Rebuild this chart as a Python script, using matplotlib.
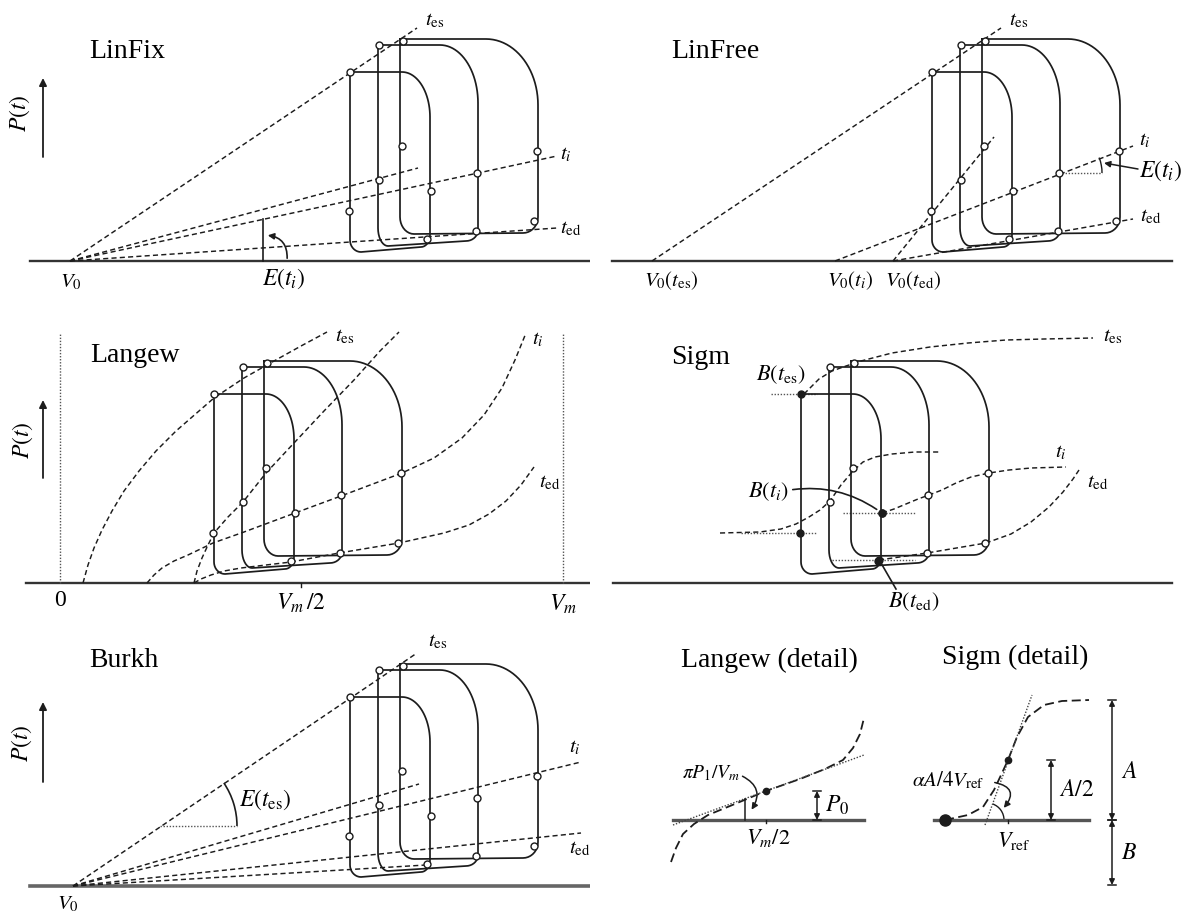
import numpy as np
import matplotlib
matplotlib.use('Agg')
import matplotlib.pyplot as plt
from matplotlib.patches import Arc, FancyArrowPatch

plt.rcParams['font.family'] = ['Liberation Serif', 'DejaVu Serif']
plt.rcParams['mathtext.fontset'] = 'stix'

# ---- shared loop geometry (volume px, pressure px above baseline) ----
loop_vl = [350, 378, 400]
loop_vr = [430, 478, 538]
loop_ptop = [189, 216, 222]
loop_pbl = [9, 15, 27]
loop_pbr = [14, 20, 28]
loop_rtr = [(28, 45), (38, 58), (52, 66)]
loop_rbr = [(9, 12), (12, 11), (15, 16)]
loop_rbl = [(11, 12), (10, 18), (14, 17)]

# marked states on the loops
es_v, es_p = [350, 379, 403], [189, 216, 220]
left_v, left_p = [349, 379, 402], [50, 81, 115]
right_v, right_p = [431, 477, 537], [70, 88, 110]
ed_v, ed_p = [427, 476, 534], [22, 30, 40]

# LinFix: lines through fixed V0
fix_v0 = 70
fix_end_v = [417, 418, 557, 557]
fix_end_p = [233, 93, 105, 33]

# LinFree: lines with own intercepts
free_v0 = [70, 253, 311, 311]
free_end_v = [419, 551, 551, 412]
free_end_p = [233, 115, 42, 124]

# Burkh
burkh_v0 = 73
burkh_end_v = [417, 419, 581, 581, 426]
burkh_end_p = [233, 102, 124, 53, 21]

# Langew curves
lang_es_v = [219, 224, 230, 238, 248, 260, 275, 292, 312, 335, 350, 380, 410, 437, 463]
lang_es_p = [0, 18, 35, 53, 72, 92, 112, 132, 152, 172, 185, 205, 222, 237, 251]
lang_x_v = [330, 333, 338, 344, 350, 364, 379, 402, 430, 460, 490, 516, 535]
lang_x_p = [0, 12, 25, 38, 50, 66, 81, 110, 140, 172, 203, 232, 251]
lang_i_v = [283, 290, 298, 310, 324, 349, 380, 431, 477, 538, 570, 598, 620, 638, 651, 662]
lang_i_p = [0, 8, 15, 22, 28, 40, 51, 70, 87, 110, 125, 145, 168, 195, 223, 250]
lang_ed_v = [330, 337, 347, 360, 377, 427, 475, 535, 580, 605, 625, 642, 657, 670]
lang_ed_p = [0, 4, 8, 12, 15, 21, 30, 40, 50, 58, 69, 82, 98, 116]
lang_vzero, lang_vhalf, lang_vm = 196, 437, 699

# Sigm curves
sig_es_v = [353, 360, 368, 381, 395, 410, 441, 479, 517, 555, 593, 642]
sig_es_p = [189, 196, 204, 212, 217, 222, 230, 236, 240, 243, 244, 245]
sig_x_v = [269, 309, 330, 345, 358, 369, 379, 390, 402, 412, 424, 441, 464, 490]
sig_x_p = [50, 51, 54, 59, 66, 73, 82, 98, 112, 121, 126, 129, 131, 131]
sig_i_v = [431, 443, 455, 467, 478, 491, 505, 520, 538, 558, 580, 615]
sig_i_p = [70, 74, 79, 84, 88, 93, 100, 106, 110, 113, 115, 116]
sig_ed_v = [428, 476, 535, 560, 580, 598, 612, 622, 628]
sig_ed_p = [23, 30, 40, 49, 61, 76, 91, 104, 113]
sig_b_v = [[320, 366], [290, 366], [392, 464], [381, 464]]
sig_b_p = [189, 50, 70, 23]

# detail panels
ld_v = [81, 86, 93, 104, 118, 140, 176, 210, 235, 253, 263, 270, 274]
ld_p = [-42, -28, -14, -4, 5, 14, 29, 41, 51, 60, 72, 86, 102]
ld_tan_v, ld_tan_p = [83, 274], [-5, 65]
ld_dot = (176, 29)
sd_v = [355, 378, 393, 404, 412, 418, 427, 438, 454, 472, 499]
sd_p = [0, 5, 13, 30, 47, 60, 83, 103, 115, 119, 120]
sd_tan_v, sd_tan_p = [395, 442], [-5, 125]
sd_dot = (418, 60)

W, H = 1182, 913
fig = plt.figure(figsize=(W / 100, H / 100), dpi=100)
INK = '#1c1c1c'
DASH = (0, (3.5, 2.2))
DOT = (0, (1, 1.2))
LAB = 15
TITLE = 20


def panel(box, ox, oy):
    x0, y0, w, h = box
    ax = fig.add_axes([x0 / W, 1 - (y0 + h) / H, w / W, h / H])
    ax.set_xlim(x0 - ox, x0 + w - ox)
    ax.set_ylim(oy - (y0 + h), oy - y0)
    ax.axis('off')
    return ax


def loop_xy(vl, vr, ptop, pbl, pbr, rtr, rbr, rbl):
    xs, ys = [vl], [ptop]
    a = np.linspace(np.pi / 2, 0, 24)
    xs += list(vr - rtr[0] + rtr[0] * np.cos(a))
    ys += list(ptop - rtr[1] + rtr[1] * np.sin(a))
    a = np.linspace(0, -np.pi / 2, 10)
    xs += list(vr - rbr[0] + rbr[0] * np.cos(a))
    ys += list(pbr + rbr[1] + rbr[1] * np.sin(a))
    a = np.linspace(-np.pi / 2, -np.pi, 10)
    xs += list(vl + rbl[0] + rbl[0] * np.cos(a))
    ys += list(pbl + rbl[1] + rbl[1] * np.sin(a))
    xs.append(vl)
    ys.append(ptop)
    return xs, ys


def draw_loops(ax, filled_first=False):
    for i in range(3):
        x, y = loop_xy(loop_vl[i], loop_vr[i], loop_ptop[i], loop_pbl[i],
                       loop_pbr[i], loop_rtr[i], loop_rbr[i], loop_rbl[i])
        ax.plot(x, y, color=INK, lw=1.25, zorder=3)
    for vs, ps in [(es_v, es_p), (left_v, left_p), (right_v, right_p), (ed_v, ed_p)]:
        if filled_first:
            ax.plot(vs[1:], ps[1:], 'o', ms=5, mfc='white', mec=INK, mew=1, zorder=6)
            ax.plot(vs[:1], ps[:1], 'o', ms=5, mfc=INK, mec=INK, zorder=6)
        else:
            ax.plot(vs, ps, 'o', ms=5, mfc='white', mec=INK, mew=1, zorder=6)


def p_arrow(ax, x, p0, p1, lx, ly):
    ax.annotate('', xy=(x, p1), xytext=(x, p0),
                arrowprops=dict(arrowstyle='-|>', color=INK, lw=1.3, mutation_scale=11,
                                shrinkA=0, shrinkB=0))
    ax.text(lx, ly, '$P(t)$', rotation=90, fontsize=17, ha='center', va='center')


def label(ax, x, y, s, size=LAB, **kw):
    kw.setdefault('ha', 'center')
    kw.setdefault('va', 'center')
    ax.text(x, y, s, fontsize=size, **kw)


def baseline(ax, x0, x1, color='#333333', lw=1.7):
    ax.plot([x0, x1], [0, 0], color=color, lw=lw, zorder=2)


def dashed(ax, v, p):
    ax.plot(v, p, color=INK, lw=1.05, ls=DASH, zorder=2)


# ---------------- LinFix ----------------
ax = panel((0, 0, 590, 300), 0, 261)
baseline(ax, 30, 590)
draw_loops(ax)
for v, p in zip(fix_end_v, fix_end_p):
    dashed(ax, [fix_v0, v], [0, p])
label(ax, 89, 209, 'LinFix', size=TITLE, ha='left')
p_arrow(ax, 43, 104, 183, 20, 148)
label(ax, 71, -21, '$V_0$')
label(ax, 425, 240, r'$t_{\mathrm{es}}$', ha='left')
label(ax, 560, 106, '$t_i$', ha='left')
label(ax, 560, 32, r'$t_{\mathrm{ed}}$', ha='left')
ax.plot([263, 263], [0, 42], color=INK, lw=1.2)
ax.add_patch(FancyArrowPatch((287, 0), (265, 26), connectionstyle='arc3,rad=0.5',
                             arrowstyle='-|>', mutation_scale=9, color=INK, lw=1.2))
label(ax, 284, -18, '$E(t_i)$', size=17)

# ---------------- LinFree ----------------
ax = panel((590, 0, 592, 300), 582, 261)
baseline(ax, 30, 590)
draw_loops(ax)
for v0, v, p in zip(free_v0, free_end_v, free_end_p):
    dashed(ax, [v0, v], [0, p])
label(ax, 89, 209, 'LinFree', size=TITLE, ha='left')
label(ax, 89, -20, r'$V_0(t_{\mathrm{es}})$')
label(ax, 268, -20, r'$V_0(t_i)$')
label(ax, 331, -20, r'$V_0(t_{\mathrm{ed}})$')
label(ax, 427, 240, r'$t_{\mathrm{es}}$', ha='left')
label(ax, 557, 120, '$t_i$', ha='left')
label(ax, 558, 44, r'$t_{\mathrm{ed}}$', ha='left')
ax.plot([477, 520], [88, 88], color='#555555', lw=1.0, ls=DOT)
ax.add_patch(Arc((477, 88), 86, 86, theta1=0, theta2=21, color=INK, lw=1.0))
ax.annotate('', xy=(522, 98), xytext=(556, 92),
            arrowprops=dict(arrowstyle='-|>', color=INK, lw=1.1, mutation_scale=9,
                            shrinkA=0, shrinkB=0))
label(ax, 557, 90, '$E(t_i)$', size=17, ha='left')

# ---------------- Langew ----------------
ax = panel((0, 300, 590, 310), -136, 583)
baseline(ax, 162, 726)
for xv in (lang_vzero, lang_vm):
    ax.plot([xv, xv], [0, 250], color='#555555', lw=1.0, ls=DOT)
ax.plot([lang_vhalf, lang_vhalf], [0, -4], color=INK, lw=1.0)
draw_loops(ax)
for v, p in [(lang_es_v, lang_es_p), (lang_x_v, lang_x_p),
             (lang_i_v, lang_i_p), (lang_ed_v, lang_ed_p)]:
    dashed(ax, v, p)
label(ax, 226, 228, 'Langew', size=TITLE, ha='left')
p_arrow(ax, 179, 105, 183, 159, 143)
label(ax, lang_vzero, -18, '0', size=17)
label(ax, lang_vhalf, -20, r'$V_m\,/2$', size=17)
label(ax, lang_vm, -21, '$V_m$', size=17)
label(ax, 471, 246, r'$t_{\mathrm{es}}$', ha='left')
label(ax, 668, 243, '$t_i$', ha='left')
label(ax, 675, 100, r'$t_{\mathrm{ed}}$', ha='left')

# ---------------- Sigm ----------------
ax = panel((590, 300, 592, 310), 451, 583)
baseline(ax, 162, 721)
draw_loops(ax, filled_first=True)
for v, p in [(sig_es_v, sig_es_p), (sig_x_v, sig_x_p),
             (sig_i_v, sig_i_p), (sig_ed_v, sig_ed_p)]:
    dashed(ax, v, p)
for v, p in zip(sig_b_v, sig_b_p):
    ax.plot(v, [p, p], color='#555555', lw=1.0, ls=DOT, zorder=2)
ax.plot([431], [70], 'o', ms=5, mfc=INK, mec=INK, zorder=7)
ax.plot([428], [23], 'o', ms=5, mfc=INK, mec=INK, zorder=7)
label(ax, 220, 226, 'Sigm', size=TITLE, ha='left')
label(ax, 652, 246, r'$t_{\mathrm{es}}$', ha='left')
label(ax, 604, 130, '$t_i$', ha='left')
label(ax, 636, 100, r'$t_{\mathrm{ed}}$', ha='left')
label(ax, 330, 208, r'$B(t_{\mathrm{es}})$', size=16)
label(ax, 317, 91, '$B(t_i)$', size=16)
label(ax, 463, -19, r'$B(t_{\mathrm{ed}})$', size=16)
ax.add_patch(FancyArrowPatch((339, 93), (428, 72), connectionstyle='arc3,rad=-0.2',
                             arrowstyle='-', color=INK, lw=1.2))
ax.plot([445, 430], [-6, 20], color=INK, lw=1.2)

# ---------------- Burkh ----------------
ax = panel((0, 610, 590, 303), 0, 886)
baseline(ax, 30, 590, color='#666666', lw=2.6)
draw_loops(ax)
for v, p in zip(burkh_end_v, burkh_end_p):
    dashed(ax, [burkh_v0, v], [0, p])
label(ax, 89, 226, 'Burkh', size=TITLE, ha='left')
p_arrow(ax, 43, 104, 184, 22, 143)
label(ax, 68, -18, '$V_0$')
label(ax, 428, 244, r'$t_{\mathrm{es}}$', ha='left')
label(ax, 569, 138, '$t_i$', ha='left')
label(ax, 569, 37, r'$t_{\mathrm{ed}}$', ha='left')
ax.plot([160, 237], [60, 60], color='#555555', lw=1.0, ls=DOT)
ax.add_patch(Arc((160, 60), 154, 154, theta1=0, theta2=34, color=INK, lw=1.2))
label(ax, 239, 86, r'$E(t_{\mathrm{es}})$', size=17, ha='left')

# ---------------- details ----------------
ax = panel((590, 610, 592, 303), 590, 820)
label(ax, 179, 160, 'Langew (detail)', size=TITLE)
label(ax, 425, 163, 'Sigm (detail)', size=TITLE)
baseline(ax, 83, 274, color='#555555', lw=2.4)
baseline(ax, 344, 499, color='#555555', lw=2.4)

ax.plot(ld_v, ld_p, color=INK, lw=1.3, ls=(0, (5, 2.5)))
ax.plot(ld_tan_v, ld_tan_p, color='#444444', lw=1.0, ls=DOT)
ax.plot(*ld_dot, 'o', ms=4.5, color=INK)
ax.plot([155, 155], [0, 21], color=INK, lw=1.1)
ax.add_patch(FancyArrowPatch((150, 45), (160, 8), connectionstyle='arc3,rad=-0.6',
                             arrowstyle='-|>', mutation_scale=9, color=INK, lw=1.1))
ax.plot([176, 176], [0, -3], color=INK, lw=1.0)
label(ax, 121, 47, r'$\pi P_1/V_m$', size=14)
label(ax, 178, -18, '$V_m/2$', size=16)

ax.plot(sd_v, sd_p, color=INK, lw=1.3, ls=(0, (5, 2.5)))
ax.plot(sd_tan_v, sd_tan_p, color='#444444', lw=1.0, ls=DOT)
ax.plot(*sd_dot, 'o', ms=4.5, color=INK)
ax.plot([sd_v[0]], [sd_p[0]], 'o', ms=8, color=INK)
ax.add_patch(Arc((397, 0), 34, 34, theta1=0, theta2=70, color=INK, lw=1.0))
ax.add_patch(FancyArrowPatch((402, 38), (412, 10), connectionstyle='arc3,rad=-0.9',
                             arrowstyle='-|>', mutation_scale=9, color=INK, lw=1.1))
ax.plot([418, 418], [0, -3], color=INK, lw=1.0)
label(ax, 358, 40, r'$\alpha A/4V_{\mathrm{ref}}$', size=15)
label(ax, 424, -21, r'$V_{\mathrm{ref}}$', size=16)


def dim(ax, x, p0, p1):
    ax.annotate('', xy=(x, p1), xytext=(x, p0),
                arrowprops=dict(arrowstyle='<|-|>', color=INK, lw=1.1, mutation_scale=8,
                                shrinkA=0, shrinkB=0))
    ax.plot([x - 4, x + 4], [p0, p0], color=INK, lw=1.1)
    ax.plot([x - 4, x + 4], [p1, p1], color=INK, lw=1.1)


dim(ax, 227, 0, 29)
label(ax, 235, 15, '$P_0$', size=17, ha='left')
dim(ax, 461, 0, 60)
label(ax, 469, 30, '$A/2$', size=17, ha='left')
dim(ax, 522, 0, 120)
dim(ax, 522, 0, -65)
label(ax, 531, 48, '$A$', size=17, ha='left')
label(ax, 531, -33, '$B$', size=17, ha='left')

fig.savefig('out.png', dpi=100)
